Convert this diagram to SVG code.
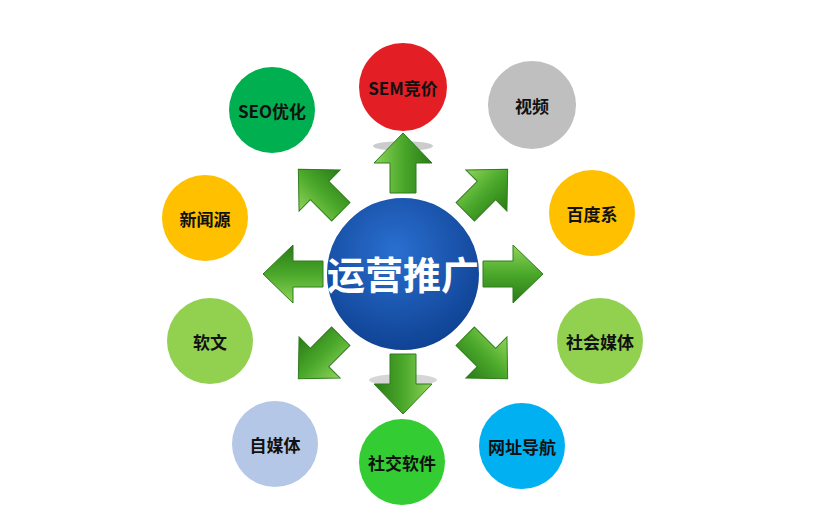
<svg xmlns="http://www.w3.org/2000/svg" width="813" height="515" viewBox="0 0 813 515">
<defs>
<linearGradient id="ag" x1="0" y1="0" x2="0" y2="1"><stop offset="0" stop-color="#8fd45a"/><stop offset="0.5" stop-color="#4aa82a"/><stop offset="1" stop-color="#2a7a18"/></linearGradient>
<radialGradient id="cg" cx="0.45" cy="0.35" r="0.7"><stop offset="0" stop-color="#2a6fd0"/><stop offset="1" stop-color="#0d3f8f"/></radialGradient>
<path id="arr" d="M0,-13 L30,-13 L30,-29 L60,0 L30,29 L30,13 L0,13 Z" fill="url(#ag)" stroke="#2f7d1c" stroke-width="1"/>
</defs>
<style>
.n{stroke:none}
.t{font-family:"Noto Sans CJK SC","Liberation Sans",sans-serif;font-weight:bold;font-size:17px;fill:#111;text-anchor:middle;dominant-baseline:central}
</style>
<rect width="813" height="515" fill="#fff"/>
<g id="connectors">
<ellipse cx="403" cy="146" rx="30" ry="5" fill="#999" opacity="0.5"/>
<ellipse cx="403" cy="380" rx="34" ry="6" fill="#999" opacity="0.4"/>
<use href="#arr" transform="translate(403,274) rotate(-90) translate(81,0)"/>
<use href="#arr" transform="translate(403,274) rotate(90) translate(80,0)"/>
<use href="#arr" transform="translate(403,274) rotate(0) translate(80,0)"/>
<use href="#arr" transform="translate(403,274) rotate(180) translate(80,0)"/>
<use href="#arr" transform="translate(403,274) rotate(-45) translate(88,0)"/>
<use href="#arr" transform="translate(403,274) rotate(-135) translate(88,0)"/>
<use href="#arr" transform="translate(403,274) rotate(45) translate(88,0)"/>
<use href="#arr" transform="translate(403,274) rotate(135) translate(88,0)"/>
</g>
<g id="center"><circle cx="403" cy="274" r="77" fill="url(#cg)" stroke="#fff" stroke-width="2"/>
<text x="403" y="272" style="font-family:'Noto Sans CJK SC',sans-serif;font-weight:bold;font-size:38px;fill:#fff;text-anchor:middle;dominant-baseline:central">运营推广</text></g>
<g id="sem"><circle cx="403" cy="87" r="44" fill="#e31e24"/><text class="t" x="403" y="87">SEM竞价</text></g>
<g id="video"><circle cx="532" cy="105" r="44" fill="#bfbfbf"/><text class="t" x="532" y="105">视频</text></g>
<g id="baidu"><circle cx="592" cy="213" r="43" fill="#ffc000"/><text class="t" x="592" y="213">百度系</text></g>
<g id="social"><circle cx="600" cy="341" r="43" fill="#92d050"/><text class="t" x="600" y="341">社会媒体</text></g>
<g id="nav"><circle cx="522" cy="446" r="43" fill="#00b0f0"/><text class="t" x="522" y="446">网址导航</text></g>
<g id="im"><circle cx="402" cy="462" r="43" fill="#33cc33"/><text class="t" x="402" y="462">社交软件</text></g>
<g id="self"><circle cx="275" cy="444" r="43" fill="#b4c7e7"/><text class="t" x="275" y="444">自媒体</text></g>
<g id="article"><circle cx="210" cy="341" r="43" fill="#92d050"/><text class="t" x="210" y="341">软文</text></g>
<g id="news"><circle cx="205" cy="218" r="43" fill="#ffc000"/><text class="t" x="205" y="218">新闻源</text></g>
<g id="seo"><circle cx="272" cy="110" r="43" fill="#00b050"/><text class="t" x="272" y="110">SEO优化</text></g>
</svg>
